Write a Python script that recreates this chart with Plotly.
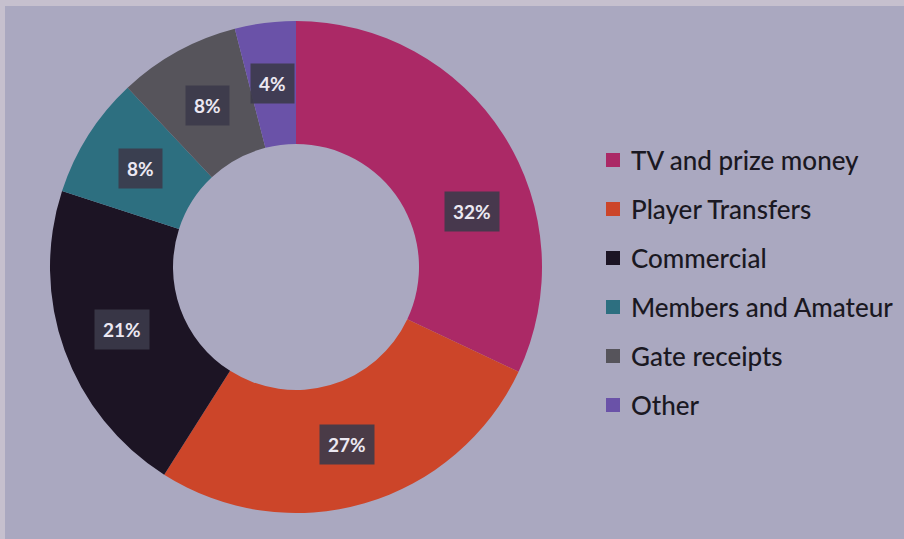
import math
import plotly.graph_objects as go

categories = ["TV and prize money", "Player Transfers", "Commercial",
              "Members and Amateur", "Gate receipts", "Other"]
values = [32, 27, 21, 8, 8, 4]
label_text = ["32%", "27%", "21%", "8%", "8%", "4%"]

colors = ["#ab2966", "#cc4529", "#1c1424", "#2d6f80", "#56545b", "#6a52a8"]
label_shift_deg = [15, 0, 0, 0, 0, 0]  # style nudge of label position along the ring

W, H = 904, 539
cx, cy, R = 296, 267, 246
hole = 0.5

fig = go.Figure(go.Pie(
    labels=categories, values=values, hole=hole, sort=False,
    direction="clockwise", rotation=0,
    marker=dict(colors=colors, line=dict(width=0)),
    textinfo="none", hoverinfo="label+percent", showlegend=False,
    domain=dict(x=[(cx - R) / W, (cx + R) / W],
                y=[(H - cy - R) / H, (H - cy + R) / H]),
))

shapes = [
    dict(type="rect", xref="paper", yref="paper", x0=5 / W, x1=1, y0=0, y1=(H - 6) / H,
         fillcolor="#aaa8c0", line=dict(width=0), layer="below"),
]
annotations = []

# Percent labels placed at slice mid-angles (computed from values)
total = sum(values)
cum = 0
rmid = R * (1 + hole) / 2
for v, t, s in zip(values, label_text, label_shift_deg):
    mid = (cum + v / 2) / total * 360 + s
    cum += v
    a = math.radians(mid)
    px = cx + rmid * math.sin(a)
    py = cy - rmid * math.cos(a)
    annotations.append(dict(
        x=px / W, y=1 - py / H, xref="paper", yref="paper", text=t, showarrow=False,
        font=dict(family="Lato", size=19, color="#ece8f2", weight="bold"),
        bgcolor="rgba(60,58,74,0.9)", borderpad=8, xanchor="center", yanchor="middle",
    ))

# Manual legend
lx, ly0, dy, sq = 606, 160, 49, 14
for i, (c, name) in enumerate(zip(colors, categories)):
    y = ly0 + i * dy
    shapes.append(dict(type="rect", xref="paper", yref="paper",
                       x0=lx / W, x1=(lx + sq) / W,
                       y0=1 - (y + sq / 2) / H, y1=1 - (y - sq / 2) / H,
                       fillcolor=c, line=dict(width=0)))
    annotations.append(dict(
        x=(lx + sq + 9) / W, y=1 - y / H, xref="paper", yref="paper", text=name,
        showarrow=False, xanchor="left", yanchor="middle",
        font=dict(family="Lato", size=26, color="#1a1822", weight=500),
    ))

fig.update_layout(
    width=W, height=H, margin=dict(l=0, r=0, t=0, b=0),
    paper_bgcolor="#c6c0ce", plot_bgcolor="rgba(0,0,0,0)",
    shapes=shapes, annotations=annotations,
)
fig.write_html("out.html", config={"displayModeBar": False},
               post_script="document.body.style.margin='0';document.body.style.padding='0';")
